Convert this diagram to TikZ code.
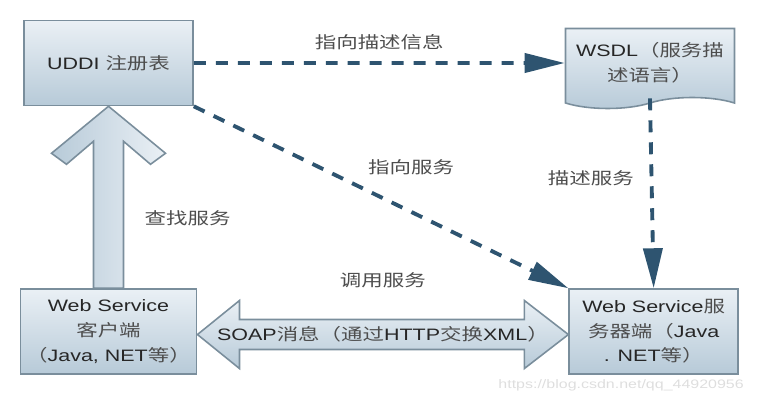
\documentclass[tikz,border=0pt]{standalone}
\usepackage{fontspec}
\setmainfont{Liberation Sans}[FakeStretch=1.3]
\newfontfamily\cjk{Noto Sans CJK SC}[FakeStretch=1.3]
\usetikzlibrary{arrows.meta, positioning, calc, shapes.symbols}
\definecolor{BoxTop}{HTML}{EAF0F5}
\definecolor{BoxBot}{HTML}{B7CAD8}
\definecolor{BoxLine}{HTML}{7A8E9C}
\definecolor{DashBlue}{HTML}{2E5470}
\definecolor{TextDark}{HTML}{262626}
\definecolor{TextGray}{HTML}{4D4D4D}
\definecolor{MarkGray}{HTML}{DEDEDE}
\newcommand{\zh}[1]{{\cjk\color{TextGray}#1}}
\tikzset{
  svcbox/.style={rectangle, draw=BoxLine, line width=0.9pt, top color=BoxTop,
    bottom color=BoxBot, minimum width=3.38cm, minimum height=1.7cm,
    align=center, text=TextDark, font=\fontsize{9.4}{14}\selectfont},
  docbox/.style={svcbox, tape, tape bend top=none, tape bend bottom=in and out,
    tape bend height=0.22cm, minimum height=1.6cm},
  dasharr/.style={-{Triangle[length=0.8cm, width=0.38cm]}, line width=2.2pt,
    dash pattern=on 0.24cm off 0.2cm, draw=DashBlue},
  blockarr/.style={draw=BoxLine, line width=0.9pt, line join=miter},
  lbl/.style={font=\fontsize{9.4}{12}\selectfont\cjk, text=TextGray},
}
\begin{document}
\begin{tikzpicture}[x=0.02cm, y=-0.02cm]
  \useasboundingbox (0,0) rectangle (758,403);

  \node (uddi)   [svcbox] at (108.5,63)            {UDDI \zh{注册表}};
  \node (wsdl)   [docbox, right=7.42cm of uddi]    {WSDL\zh{（服务描}\\\zh{述语言）}};
  \node (client) [svcbox, below=3.64cm of uddi]    {Web Service\\\zh{客户端}\\\zh{（}Java, NET\zh{等）}};
  \node (server) [svcbox, right=7.42cm of client]  {Web Service\zh{服}\\\zh{务器端（}Java\\. NET\zh{等）}};

  % block arrows
  \draw[blockarr, left color=BoxBot, right color=BoxTop]
    ($(client.north)+(-15,0)$) -- ($(uddi.south)+(-15,35)$) -- ++(-27,23) -- ++(-15,-11)
    -- (uddi.south) -- ++(57,47) -- ++(-15,11) -- ($(uddi.south)+(15,35)$)
    -- ($(client.north)+(15,0)$) -- cycle;
  \node[lbl, right=0.6cm] at ($(client.north)!0.385!(uddi.south)$) {查找服务};

  \coordinate (soapl) at ($(client.east)+(0,3)$);
  \coordinate (soapr) at ($(server.west)+(0,3)$);
  \draw[blockarr, top color=BoxTop, bottom color=BoxBot]
    (soapl) -- ++(42,-34) -- ++(0,19) -- ($(soapr)+(-44,-15)$) -- ++(0,-19)
    -- (soapr) -- ++(-44,34) -- ++(0,-19) -- ($(soapl)+(42,15)$) -- ++(0,19) -- cycle;
  \node (soap) [font=\fontsize{9.4}{12}\selectfont, text=TextDark]
    at ($(soapl)!0.5!(soapr)$) {SOAP\zh{消息（通过}HTTP\zh{交换}XML\zh{）}};
  \node[lbl, above=0.52cm of soap] {调用服务};

  % dashed connectors
  \draw[dasharr] (uddi) -- node[lbl, above=0.1cm]{指向描述信息} (wsdl);
  \draw[dasharr] (uddi.south east) -- node[lbl, above=0.3cm, xshift=0.6cm]{指向服务} (server.north west);
  \draw[dasharr] (wsdl.south) -- node[lbl, pos=0.42, left=0.2cm]{描述服务} (server.north);

  \node[font=\fontsize{7}{9}\selectfont, text=MarkGray, anchor=east] at (750,385)
    {https://blog.csdn.net/qq\_44920956};
\end{tikzpicture}
\end{document}
